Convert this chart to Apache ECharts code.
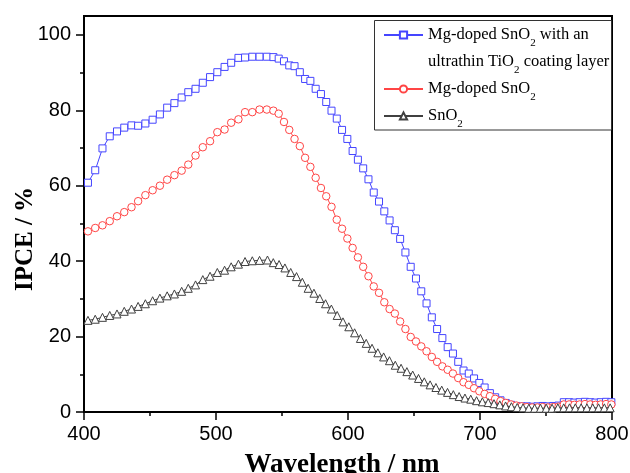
<!DOCTYPE html>
<html>
<head>
<meta charset="utf-8">
<script src="https://cdn.jsdelivr.net/npm/echarts@6/dist/echarts.min.js"></script>
<style>
  html, body { margin: 0; padding: 0; background: #fff; }
  #chart { width: 630px; height: 473px; }
</style>
</head>
<body>
<div id="chart"></div>
<script>
// Wavelength grid (nm) shared by the two Mg-doped samples
const wlDoped = [
  403, 408.5, 414, 419.5, 425, 430.5, 436, 441, 446.5, 452, 457.5, 463, 468.5,
  474, 479, 484.5, 490, 495.5, 501, 506.5, 511.5, 517, 522, 527.5, 533, 538.5,
  543.5, 547.5, 551.5, 555.5, 559.5, 563.5, 567.5, 571.5, 575.5, 579.5, 583.5,
  587.5, 591.5, 595.5, 599.5, 603.5, 607.5, 611.5, 615.5, 619.5, 623.5, 627.5,
  631.5, 635.5, 639.5, 643.5, 647.5, 651.5, 655.5, 659.5, 663.5, 667.5, 671.5,
  675.5, 679.5, 683.5, 687.5, 691.5, 695.5, 699.5, 703.5, 707.5, 711.5, 715.5,
  719.5, 723.5, 727.5, 731.5, 735.5, 739.5, 743.5, 747.5, 751.5, 755.5, 759.5,
  763.5, 767.5, 771.5, 775.5, 779.5, 783.5, 787.5, 791.5, 795.5, 799.5
];

// IPCE (%) of Mg-doped SnO2 with an ultrathin TiO2 coating layer
const ipceCoated = [
  60.8, 64.1, 69.9, 73.1, 74.4, 75.4, 76.0, 75.9, 76.5, 77.5, 78.9, 80.7, 81.9,
  83.4, 84.8, 85.7, 87.3, 88.8, 90.1, 91.5, 92.6, 93.9, 94.0, 94.2, 94.2, 94.2,
  94.1, 93.7, 93.0, 91.9, 91.7, 90.1, 88.3, 87.8, 85.7, 84.3, 82.2,
  79.9, 77.8, 74.8, 72.4, 69.2, 66.9, 64.6, 61.7, 58.2, 55.8, 53.2,
  50.8, 48.2, 45.9, 42.3, 38.5, 35.4, 32.0, 28.8, 25.1, 22.0, 19.6,
  17.2, 15.5, 13.3, 11.0, 10.2, 8.9, 7.7, 6.5, 5.0, 3.9, 3.1,
  2.4, 1.9, 1.6, 1.5, 1.5, 1.4, 1.5, 1.6, 1.5, 1.6, 1.7,
  2.6, 2.6, 2.5, 2.6, 2.7, 2.6, 2.5, 2.6, 2.7, 2.6
];

// IPCE (%) of Mg-doped SnO2
const ipceDoped = [
  47.9, 48.8, 49.5, 50.6, 51.9, 53.0, 54.3, 55.9, 57.5, 58.8, 60.0, 61.6, 62.8,
  64.0, 65.6, 68.0, 70.2, 71.8, 74.2, 74.9, 76.7, 77.6, 79.5, 79.5, 80.2, 80.2,
  79.9, 79.1, 76.9, 74.8, 72.4, 70.5, 67.4, 65.0, 62.1, 59.4, 57.2,
  54.4, 51.0, 48.6, 46.0, 43.5, 41.0, 38.5, 36.0, 33.3, 31.6, 29.1,
  27.3, 26.1, 24.0, 22.0, 19.9, 18.7, 17.4, 16.1, 14.6, 13.3, 12.1,
  11.2, 10.2, 9.0, 7.9, 7.2, 6.3, 5.5, 4.8, 4.2, 3.5, 2.9,
  2.4, 2.0, 1.7, 1.5, 1.3, 1.2, 1.2, 1.3, 1.2, 1.3, 1.4,
  2.0, 2.0, 1.9, 2.0, 2.1, 2.0, 1.9, 2.0, 2.1, 2.0
];

// Wavelength grid (nm) of the bare SnO2 sample
const wlBare = [
  403, 408.5, 414, 419.5, 425, 430.5, 436, 441, 446.5, 452, 457.5, 463, 468.5,
  474, 479, 484.5, 490, 495.5, 501, 506.5, 511.5, 517, 522, 527.5, 533,
  539, 543.4, 547.8, 552.2, 556.6, 561, 565.4, 569.8, 574.2, 578.6, 583, 587.4,
  591.8, 596.2, 600.6, 605, 609.4, 613.8, 618.2, 622.6, 627, 631.4, 635.8,
  640.2, 644.6, 649, 653.4, 657.8, 662.2, 666.6, 671, 675.4, 679.8, 684.2,
  688.6, 693, 697.4, 701.8, 706.2, 710.6, 715, 719.4, 723.8, 728.2, 732.6,
  737, 741.4, 745.8, 750.2, 754.6, 759, 763.4, 767.8, 772.2, 776.6, 781,
  785.4, 789.8, 794.2, 798.6
];

// IPCE (%) of SnO2
const ipceBare = [
  24.3, 24.6, 25.1, 25.6, 26.0, 26.7, 27.3, 28.0, 28.7, 29.5, 30.2, 30.8, 31.3,
  32.0, 32.8, 33.7, 35.1, 36.0, 37.0, 37.6, 38.5, 39.2, 39.9, 40.1, 40.2,
  40.3, 39.6, 39.1, 38.2, 37.0, 35.9, 34.4, 32.8, 31.5, 30.1, 28.7, 27.3,
  25.6, 23.9, 22.6, 21.0, 19.5, 18.2, 16.9, 15.7, 14.6, 13.6, 12.4,
  11.6, 10.7, 9.8, 8.9, 8.0, 7.2, 6.5, 5.8, 5.2, 4.6, 4.1,
  3.7, 3.4, 3.0, 2.7, 2.5, 2.2, 1.9, 1.6, 1.4, 1.2, 1.1,
  1.0, 1.0, 1.0, 1.0, 1.0, 1.1, 1.1, 1.1, 1.1, 1.1, 1.1,
  1.1, 1.1, 1.1, 1.1
];

const yTicks = [0, 20, 40, 60, 80, 100];
const yMinorTicks = [10, 30, 50, 70, 90];

const seriesNames = [
  'Mg-doped SnO2 with an ultrathin TiO2 coating layer',
  'Mg-doped SnO2',
  'SnO2'
];
// Legend labels with chemical subscripts
const legendLabels = {};
legendLabels[seriesNames[0]] = 'Mg-doped SnO{sub|2} with an\nultrathin TiO{sub|2} coating layer';
legendLabels[seriesNames[1]] = 'Mg-doped SnO{sub|2}';
legendLabels[seriesNames[2]] = 'SnO{sub|2}';

const colors = ['#4545ff', '#ff4545', '#404040'];
const symbols = ['rect', 'circle', 'triangle'];
const symbolSizes = [7, 7.5, 8];

const pairs = (xs, ys) => xs.map((x, i) => [x, ys[i]]);
const seriesData = [
  pairs(wlDoped, ipceCoated),
  pairs(wlDoped, ipceDoped),
  pairs(wlBare, ipceBare)
];

const tickLine = { color: '#000', width: 1.5 };
const labelFont = { fontFamily: 'Liberation Sans', fontSize: 20, color: '#000' };
const titleFont = { fontFamily: 'Liberation Serif', fontWeight: 'bold', fontSize: 25, color: '#000' };

const chart = echarts.init(document.getElementById('chart'));
chart.setOption({
  animation: false,
  backgroundColor: '#fff',
  grid: {
    left: 84, right: 18, top: 16, bottom: 61,
    outerBoundsMode: 'none', containLabel: false,
    show: true, borderColor: '#000', borderWidth: 2, backgroundColor: 'transparent'
  },
  xAxis: {
    type: 'value', min: 400, max: 800, interval: 100,
    axisLine: { lineStyle: { color: '#000', width: 2 } },
    axisTick: { length: 8, lineStyle: tickLine },
    minorTick: { show: true, splitNumber: 2, length: 4, lineStyle: tickLine },
    splitLine: { show: false },
    axisLabel: Object.assign({ margin: 12 }, labelFont),
    name: 'Wavelength / nm', nameLocation: 'middle', nameGap: 40,
    nameTextStyle: Object.assign({ padding: [0, 12, 0, 0] }, titleFont, { fontSize: 27 })
  },
  yAxis: [
    {
      type: 'value', min: 0, max: 105, interval: 20,
      axisLine: { show: true, lineStyle: { color: '#000', width: 2 } },
      axisTick: { show: true, customValues: yTicks, length: 8, lineStyle: tickLine },
      axisLabel: Object.assign({ customValues: yTicks, margin: 13 }, labelFont),
      splitLine: { show: false },
      name: 'IPCE / %', nameLocation: 'middle', nameGap: 46, nameMoveOverlap: false,
      nameTextStyle: Object.assign({ padding: [0, 50, 0, 0] }, titleFont)
    },
    {
      type: 'value', min: 0, max: 105, position: 'left',
      axisLine: { show: false },
      axisTick: { show: true, customValues: yMinorTicks, length: 4, lineStyle: tickLine },
      axisLabel: { show: false },
      splitLine: { show: false }
    }
  ],
  legend: {
    orient: 'vertical', left: 383, top: -5.5, padding: 0,
    itemWidth: 39, itemHeight: 9, itemGap: 0, selectedMode: false,
    textStyle: {
      fontFamily: 'Liberation Serif', fontSize: 16.5, color: '#000', lineHeight: 27,
      rich: { sub: { fontFamily: 'Liberation Serif', fontSize: 11, lineHeight: 27, verticalAlign: 'bottom' } }
    },
    formatter: name => legendLabels[name],
    data: [
      { name: seriesNames[0], textStyle: { padding: [27, 0, 0, 0] } },
      { name: seriesNames[1] },
      { name: seriesNames[2] }
    ]
  },
  graphic: [{
    type: 'rect', z: 3,
    shape: { x: 374.5, y: 20.5, width: 237, height: 109.5 },
    style: { fill: 'transparent', stroke: '#333', lineWidth: 1 }
  }],
  series: seriesNames.map((name, i) => ({
    name: name,
    type: 'line',
    data: seriesData[i],
    symbol: symbols[i],
    symbolSize: symbolSizes[i],
    showSymbol: true,
    lineStyle: { color: colors[i], width: 1 },
    itemStyle: { color: '#fff', borderColor: colors[i], borderWidth: 1 },
    z: 2 + i
  }))
});
</script>
</body>
</html>
